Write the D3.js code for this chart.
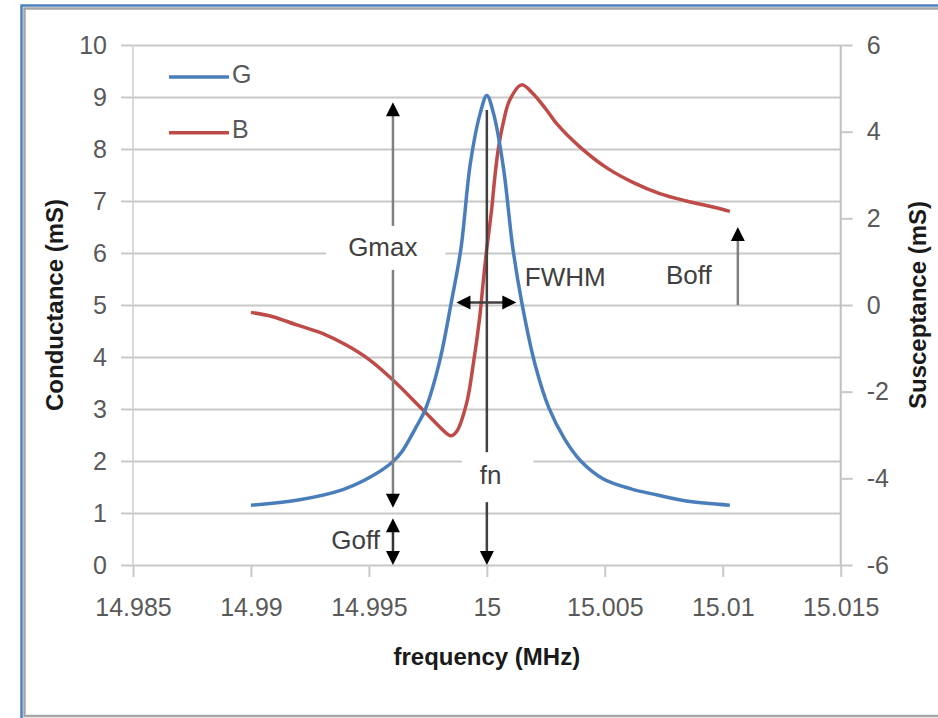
<!DOCTYPE html>
<html>
<head>
<meta charset="utf-8">
<script src="https://cdn.jsdelivr.net/npm/d3@7"></script>
<style>
  body { margin: 0; background: #fff; }
  svg { font-family: "Liberation Sans", Arial, sans-serif; }
  .axis text { fill: #595959; font-size: 25px; }
  .axis line { stroke: #c8c8c8; stroke-width: 2; }
  .axis path { display: none; }
  .note { fill: #404040; font-size: 26px; }
  .title { fill: #1a1a1a; font-size: 24px; font-weight: bold; }
</style>
</head>
<body>
<svg width="938" height="718"></svg>
<script>
// values
const xTicks = [14.985, 14.99, 14.995, 15, 15.005, 15.01, 15.015];
const xTickLabels = ["14.985", "14.99", "14.995", "15", "15.005", "15.01", "15.015"];
const leftTicks = [0, 1, 2, 3, 4, 5, 6, 7, 8, 9, 10];
const rightTicks = [-6, -4, -2, 0, 2, 4, 6];

// conductance G (mS), left axis
const freqG = [14.9900, 14.9920, 14.9939, 14.9951, 14.9960, 14.9964, 14.9970, 14.9974, 14.9980, 14.9985,
  14.9989, 14.9993, 14.99972, 15.0000, 15.00028, 15.0007, 15.0011, 15.00148, 15.00203, 15.00263,
  15.0033, 15.00396, 15.00492, 15.00614, 15.00719, 15.00846, 15.0103];
const G = [1.15, 1.25, 1.45, 1.70, 1.98, 2.18, 2.65, 3.00, 3.92, 5.07,
  6.08, 7.72, 8.69, 9.03, 8.69, 7.65, 6.10, 5.05, 3.88, 3.02,
  2.42, 2.01, 1.66, 1.46, 1.35, 1.23, 1.15];

// susceptance B (mS), right axis
const freqB = [14.9900, 14.99093, 14.99194, 14.99305, 14.99406, 14.99504, 14.99602, 14.99729, 14.99829, 14.99847,
  14.99872, 14.99914, 14.99941, 14.9997, 14.99984, 14.99999, 15.0002, 15.00034, 15.00048, 15.00069,
  15.00097, 15.00147, 15.00195, 15.00253, 15.00295, 15.00394, 15.00507, 15.00619, 15.00733, 15.00846,
  15.00958, 15.0103];
const B = [-0.17, -0.27, -0.46, -0.66, -0.93, -1.27, -1.73, -2.42, -2.96, -3.02,
  -2.92, -2.27, -1.42, -0.27, 0.5, 1.27, 2.19, 2.96, 3.58, 4.19,
  4.73, 5.08, 4.88, 4.5, 4.19, 3.65, 3.17, 2.83, 2.57, 2.40,
  2.26, 2.16];

const seriesNames = ["G", "B"];
const seriesColors = ["#4a7ebb", "#be4b48"];

const svg = d3.select("svg");
const margin = { top: 45, right: 97.3, bottom: 153, left: 133 };
const width = +svg.attr("width") - margin.left - margin.right;
const height = +svg.attr("height") - margin.top - margin.bottom;

// frame
svg.append("rect")
  .attr("x", 21.5).attr("y", 5.5).attr("width", 940).attr("height", 740)
  .attr("fill", "none").attr("stroke", "#4f81bd").attr("stroke-width", 2.5);
svg.append("rect")
  .attr("x", 24.5).attr("y", 8.5).attr("width", 940).attr("height", 707.5)
  .attr("fill", "none").attr("stroke", "#a6a6a6").attr("stroke-width", 2.5);

const x = d3.scaleLinear().domain([14.985, 15.015]).range([0, width]);
const yL = d3.scaleLinear().domain([0, 10]).range([height, 0]);
const yR = d3.scaleLinear().domain([-6, 6]).range([height, 0]);

const g = svg.append("g")
  .attr("transform", `translate(${margin.left}, ${margin.top})`);

// gridlines
g.append("g")
  .attr("class", "axis grid")
  .call(d3.axisLeft(yL).tickValues(leftTicks).tickSize(-width).tickFormat(""));

// axis lines
g.append("line").attr("x1", 0).attr("x2", 0).attr("y1", 0).attr("y2", height)
  .attr("stroke", "#d9d9d9").attr("stroke-width", 2);
g.append("line").attr("x1", width).attr("x2", width).attr("y1", 0).attr("y2", height)
  .attr("stroke", "#bfbfbf").attr("stroke-width", 2);

g.append("g")
  .attr("class", "axis")
  .call(d3.axisLeft(yL).tickValues(leftTicks).tickSize(12).tickPadding(14));

g.append("g")
  .attr("class", "axis")
  .attr("transform", `translate(${width}, 0)`)
  .call(d3.axisRight(yR).tickValues(rightTicks).tickSize(12).tickPadding(14).tickFormat(d => String(d)));

g.append("g")
  .attr("class", "axis")
  .attr("transform", `translate(0, ${height})`)
  .call(d3.axisBottom(x).tickValues(xTicks).tickSize(12).tickPadding(21)
    .tickFormat((d, i) => xTickLabels[i]));

// curves
const lineG = d3.line().x(d => x(d[0])).y(d => yL(d[1])).curve(d3.curveCatmullRom.alpha(0.5));
const lineB = d3.line().x(d => x(d[0])).y(d => yR(d[1])).curve(d3.curveCatmullRom.alpha(0.5));

g.append("path")
  .datum(d3.zip(freqB, B))
  .attr("fill", "none").attr("stroke", seriesColors[1]).attr("stroke-width", 3.5)
  .attr("d", lineB);

g.append("path")
  .datum(d3.zip(freqG, G))
  .attr("fill", "none").attr("stroke", seriesColors[0]).attr("stroke-width", 3.5)
  .attr("d", lineG);

// annotations
function head(px, py, dir) {
  const s = 7, l = 14;
  let pts;
  if (dir === "up") pts = [[px, py], [px - s, py + l], [px + s, py + l]];
  if (dir === "down") pts = [[px, py], [px - s, py - l], [px + s, py - l]];
  if (dir === "left") pts = [[px, py], [px + l, py - s], [px + l, py + s]];
  if (dir === "right") pts = [[px, py], [px - l, py - s], [px - l, py + s]];
  g.append("path").attr("d", "M" + pts.join("L") + "Z").attr("fill", "#000");
}

function seg(x1, y1, x2, y2, color) {
  g.append("line")
    .attr("x1", x1).attr("y1", y1).attr("x2", x2).attr("y2", y2)
    .attr("stroke", color).attr("stroke-width", 2.5);
}

function note(text, px, py, anchor, box) {
  const t = g.append("g");
  const r = t.append("rect").attr("fill", "#fff");
  const txt = t.append("text")
    .attr("class", "note")
    .attr("x", px).attr("y", py).attr("dy", "0.35em")
    .attr("text-anchor", anchor)
    .text(text);
  if (box) {
    const bb = txt.node().getBBox();
    r.attr("x", bb.x - box[0]).attr("y", bb.y - box[1])
      .attr("width", bb.width + box[0] + box[2]).attr("height", bb.height + box[1] + box[3]);
  } else {
    r.remove();
  }
}

// Gmax
const fG = 14.99602;
seg(x(fG), yL(8.9) + 12, x(fG), yL(1.1) - 12, "#808080");
head(x(fG), yL(8.9), "up");
head(x(fG), yL(1.1), "down");
note("Gmax", x(14.99559), yL(6.12), "middle", [22, 6, 28, 8]);

// Goff
seg(x(fG), yL(0.9) + 12, x(fG), yL(0) - 12, "#333");
head(x(fG), yL(0.9), "up");
head(x(fG), yL(0), "down");
note("Goff", x(14.99547), yL(0.48), "end");

// fn
seg(x(15.0), yL(8.75), x(15.0), yL(0) - 12, "#404040");
head(x(15.0), yL(0), "down");
note("fn", x(14.9997), yL(1.73), "start", [18, 8, 32, 12]);

// FWHM
seg(x(14.99871) + 12, yL(5.05), x(15.00125) - 12, yL(5.05), "#404040");
head(x(14.99871), yL(5.05), "left");
head(x(15.00125), yL(5.05), "right");
note("FWHM", x(15.00161), yL(5.54), "start");

// Boff
seg(x(15.01064), yR(1.8) + 12, x(15.01064), yR(0), "#808080");
head(x(15.01064), yR(1.8), "up");
note("Boff", x(15.00953), yR(0.69), "end");

// legend
const legend = g.selectAll(".legend")
  .data(seriesNames)
  .enter().append("g")
  .attr("class", "legend")
  .attr("transform", (d, i) => `translate(36, ${32 + i * 55.7})`);

legend.append("line")
  .attr("x1", 0).attr("x2", 60)
  .attr("stroke", (d, i) => seriesColors[i]).attr("stroke-width", 3.5);

legend.append("text")
  .attr("x", 63).attr("y", -3).attr("dy", "0.35em")
  .attr("fill", "#595959").style("font-size", "25px")
  .text(d => d);

// axis titles
g.append("text")
  .attr("class", "title")
  .attr("text-anchor", "middle")
  .attr("x", width / 2).attr("y", height + 92).attr("dy", "0.35em")
  .text("frequency (MHz)");

g.append("text")
  .attr("class", "title")
  .attr("text-anchor", "middle")
  .attr("transform", `translate(${55 - margin.left}, ${height / 2}) rotate(-90)`)
  .attr("dy", "0.35em")
  .text("Conductance (mS)");

g.append("text")
  .attr("class", "title")
  .attr("text-anchor", "middle")
  .attr("transform", `translate(${918 - margin.left}, ${height / 2}) rotate(-90)`)
  .attr("dy", "0.35em")
  .text("Susceptance (mS)");
</script>
</body>
</html>
